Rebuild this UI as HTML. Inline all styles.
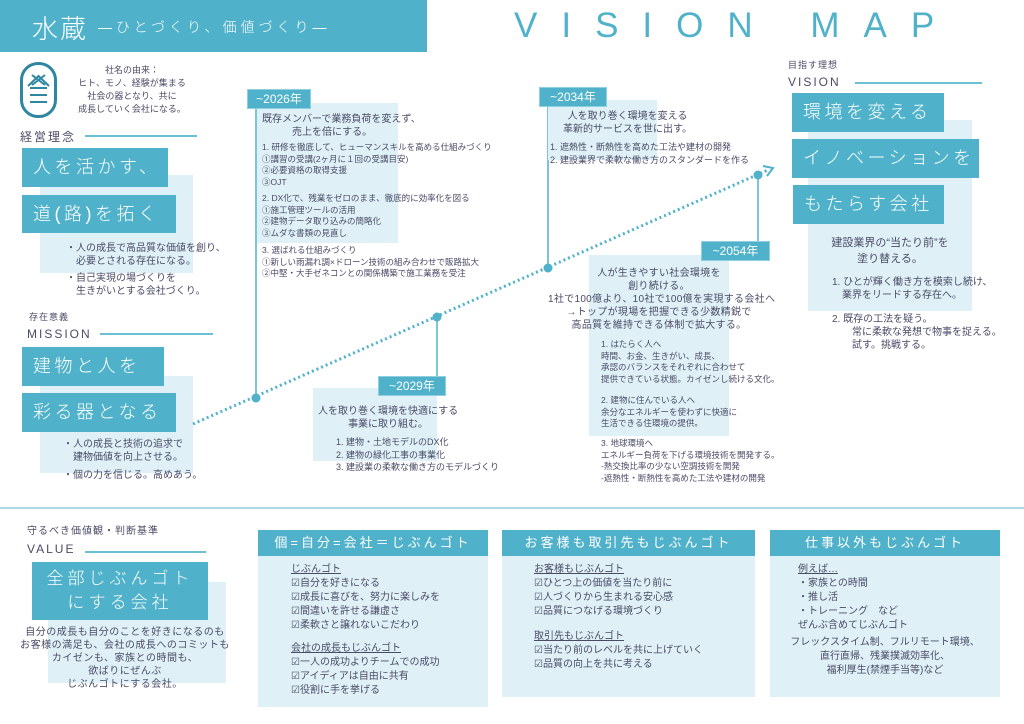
<!DOCTYPE html>
<html><head><meta charset="utf-8"><style>
*{margin:0;padding:0;box-sizing:border-box}
body{width:1024px;height:724px;background:#fff;position:relative;overflow:hidden;font-family:"Liberation Sans","Noto Sans CJK JP",sans-serif;color:#4a4b66}
div,span{position:absolute}
.t{background:#4fb2ca;color:#fff;letter-spacing:4px;font-weight:300;white-space:nowrap}
.l{background:#dff1f7}
.s{font-size:9px;line-height:12.5px;white-space:nowrap}
.m{font-size:10px;line-height:13px;white-space:nowrap}
.big{font-size:18px;padding-left:11px;line-height:38px;letter-spacing:3.5px}
.lab{background:#4fb2ca;color:#fff;font-size:12px;text-align:center;line-height:18px;border:1px solid #8fd0e0}
.hd{font-size:12px;letter-spacing:2px;white-space:nowrap}
.ln{height:1.5px;background:#6cc0d6}
.card{background:#dff1f7}
.card .h{left:0;right:0;top:0;height:26px;background:#4fb2ca;color:#fff;font-size:13px;letter-spacing:3px;text-align:center;line-height:26px;white-space:nowrap}
.u{text-decoration:underline}
</style></head><body>
<div class="t" style="left:0;top:0;width:427px;height:52px;letter-spacing:2px"><span style="left:32px;top:9px;font-size:26px">水蔵</span><span style="left:98px;top:17px;font-size:14px;letter-spacing:4px">―ひとづくり、価値づくり―</span></div>
<div style="left:514px;top:6px;font-size:35px;color:#4fb2ca;letter-spacing:24px;white-space:nowrap">VISION MAP</div>

<div style="left:20px;top:62px;width:37px;height:56px;border:3px solid #2e86a0;border-radius:18px"></div>
<svg style="position:absolute;left:20px;top:62px" width="37" height="56"><path d="M8 24 L18.5 14 L29 24 M12 13 L25 23 M25 13 L12 23" stroke="#2e86a0" stroke-width="2" fill="none"/></svg>
<div style="left:30px;top:87px;width:17px;height:2px;background:#2e86a0"></div>
<div style="left:30px;top:94px;width:17px;height:2px;background:#2e86a0"></div>
<div style="left:30px;top:101px;width:17px;height:2px;background:#2e86a0"></div>
<div class="s" style="left:72px;top:64px;width:120px;text-align:center;line-height:13px">社名の由来：<br>ヒト、モノ、経験が集まる<br>社会の器となり、共に<br>成長していく会社になる。</div>

<div class="hd" style="left:20px;top:128px">経営理念</div><div class="ln" style="left:85px;top:135px;width:112px"></div>
<div class="l" style="left:40px;top:175px;width:153px;height:98px"></div>
<div class="t big" style="left:22px;top:148px;width:146px;height:39px">人を活かす、</div>
<div class="t big" style="left:22px;top:195px;width:154px;height:38px">道(路)を拓く</div>
<div class="m" style="left:66px;top:242px">・人の成長で高品質な価値を創り、<br>　必要とされる存在になる。</div>
<div class="m" style="left:66px;top:272px">・自己実現の場づくりを<br>　生きがいとする会社づくり。</div>

<div class="s" style="left:29px;top:311px;letter-spacing:1px">存在意義</div>
<div class="hd" style="left:27px;top:327px">MISSION</div><div class="ln" style="left:100px;top:333px;width:113px"></div>
<div class="l" style="left:40px;top:376px;width:153px;height:97px"></div>
<div class="t big" style="left:22px;top:347px;width:142px;height:39px">建物と人を</div>
<div class="t big" style="left:22px;top:393px;width:154px;height:39px">彩る器となる</div>
<div class="m" style="left:63px;top:438px">・人の成長と技術の追求で<br>　建物価値を向上させる。</div>
<div class="m" style="left:63px;top:469px">・個の力を信じる。高めあう。</div>

<svg style="position:absolute;left:0;top:0" width="1024" height="724">
<line x1="193" y1="424" x2="768" y2="170" stroke="#4fb2ca" stroke-width="3" stroke-dasharray="2 3"/>
<path d="M763 166 L773 168 L767 176" fill="none" stroke="#4fb2ca" stroke-width="2"/>
<g stroke="#4fb2ca" stroke-width="1.5"><line x1="256" y1="107" x2="256" y2="398"/><line x1="437" y1="317" x2="437" y2="378"/><line x1="548" y1="105" x2="548" y2="268"/><line x1="758" y1="175" x2="758" y2="242"/></g>
<g fill="#4fb2ca"><circle cx="256" cy="398" r="4.5"/><circle cx="437" cy="317" r="4.5"/><circle cx="548" cy="268" r="4.5"/><circle cx="758" cy="175" r="4.5"/></g>
<line x1="0" y1="508" x2="1024" y2="508" stroke="#4fb2ca" stroke-width="1"/>
</svg>

<div class="l" style="left:257px;top:103px;width:141px;height:140px"></div>
<div class="lab" style="left:247px;top:89px;width:64px">~2026年</div>
<div class="m" style="left:262px;top:113px">既存メンバーで業務負荷を変えず、<br>　　　売上を倍にする。</div>
<div class="s" style="left:262px;top:142px;line-height:11.5px;font-size:8.5px">1. 研修を徹底して、ヒューマンスキルを高める仕組みづくり<br>①講習の受講(2ヶ月に１回の受講目安)<br>②必要資格の取得支援<br>③OJT</div>
<div class="s" style="left:262px;top:193px;line-height:11.5px;font-size:8.5px">2. DX化で、残業をゼロのまま、徹底的に効率化を図る<br>①施工管理ツールの活用<br>②建物データ取り込みの簡略化<br>③ムダな書類の見直し</div>
<div class="s" style="left:262px;top:245px;line-height:11.5px;font-size:8.5px">3. 選ばれる仕組みづくり<br>①新しい雨漏れ調×ドローン技術の組み合わせで販路拡大<br>②中堅・大手ゼネコンとの関係構築で施工業務を受注</div>

<div class="l" style="left:313px;top:388px;width:124px;height:73px"></div>
<div class="lab" style="left:378px;top:376px;width:68px">~2029年</div>
<div class="m" style="left:318px;top:405px">人を取り巻く環境を快適にする<br>　　　事業に取り組む。</div>
<div class="s" style="left:336px;top:436px">1. 建物・土地モデルのDX化<br>2. 建物の緑化工事の事業化<br>3. 建設業の柔軟な働き方のモデルづくり</div>

<div class="l" style="left:548px;top:100px;width:109px;height:60px"></div>
<div class="lab" style="left:539px;top:87px;width:68px">~2034年</div>
<div class="m" style="left:563px;top:110px;text-align:center">人を取り巻く環境を変える<br>革新的サービスを世に出す。</div>
<div class="s" style="left:550px;top:141px">1. 遮熱性・断熱性を高めた工法や建材の開発<br>2. 建設業界で柔軟な働き方のスタンダードを作る</div>

<div class="l" style="left:589px;top:255px;width:140px;height:181px"></div>
<div class="lab" style="left:701px;top:241px;width:69px">~2054年</div>
<div class="m" style="left:548px;top:267px;width:222px;text-align:center;letter-spacing:.3px">人が生きやすい社会環境を<br>創り続ける。<br>1社で100億より、10社で100億を実現する会社へ<br>→トップが現場を把握できる少数精鋭で<br>高品質を維持できる体制で拡大する。</div>
<div class="s" style="left:601px;top:339px;line-height:11.5px;font-size:8.5px">1. はたらく人へ<br>時間、お金、生きがい、成長、<br>承認のバランスをそれぞれに合わせて<br>提供できている状態。カイゼンし続ける文化。</div>
<div class="s" style="left:601px;top:395px;line-height:11.5px;font-size:8.5px">2. 建物に住んでいる人へ<br>余分なエネルギーを使わずに快適に<br>生活できる住環境の提供。</div>
<div class="s" style="left:601px;top:438px;line-height:11.5px;font-size:8.5px">3. 地球環境へ<br>エネルギー負荷を下げる環境技術を開発する。<br>-熱交換比率の少ない空調技術を開発<br>-遮熱性・断熱性を高めた工法や建材の開発</div>

<div class="s" style="left:788px;top:59px;letter-spacing:1px">目指す理想</div>
<div class="hd" style="left:788px;top:75px">VISION</div><div class="ln" style="left:855px;top:82px;width:127px"></div>
<div class="l" style="left:808px;top:120px;width:164px;height:191px"></div>
<div class="t big" style="left:792px;top:93px;width:152px;height:39px">環境を変える</div>
<div class="t big" style="left:792px;top:139px;width:187px;height:39px">イノベーションを</div>
<div class="t big" style="left:793px;top:185px;width:151px;height:39px">もたらす会社</div>
<div class="m" style="left:808px;top:235px;width:164px;text-align:center;font-size:11px;line-height:16px">建設業界の“当たり前”を<br>塗り替える。</div>
<div class="m" style="left:832px;top:276px">1. ひとが輝く働き方を模索し続け、<br>　業界をリードする存在へ。</div>
<div class="m" style="left:832px;top:313px">2. 既存の工法を疑う。<br>　　常に柔軟な発想で物事を捉える。<br>　　試す。挑戦する。</div>

<div class="s" style="left:27px;top:526px;font-size:10px;letter-spacing:1px">守るべき価値観・判断基準</div>
<div class="hd" style="left:27px;top:542px">VALUE</div><div class="ln" style="left:85px;top:551px;width:121px"></div>
<div class="l" style="left:48px;top:582px;width:178px;height:101px"></div>
<div class="t" style="left:32px;top:562px;width:176px;height:58px;font-size:17px;line-height:24px;text-align:center;padding-top:5px">全部じぶんゴト<br>にする会社</div>
<div class="m" style="left:10px;top:626px;width:230px;text-align:center;letter-spacing:.5px">自分の成長も自分のことを好きになるのも<br>お客様の満足も、会社の成長へのコミットも<br>カイゼンも、家族との時間も、<br>欲ばりにぜんぶ<br>じぶんゴトにする会社。</div>

<div class="card" style="left:258px;top:530px;width:230px;height:177px"><div class="h">個=自分=会社＝じぶんゴト</div>
<div class="m" style="left:33px;top:33px;line-height:14px"><span class="u" style="position:static">じぶんゴト</span><br>☑自分を好きになる<br>☑成長に喜びを、努力に楽しみを<br>☑間違いを許せる謙虚さ<br>☑柔軟さと譲れないこだわり</div>
<div class="m" style="left:33px;top:112px;line-height:14px"><span class="u" style="position:static">会社の成長もじぶんゴト</span><br>☑一人の成功よりチームでの成功<br>☑アイディアは自由に共有<br>☑役割に手を挙げる</div></div>

<div class="card" style="left:502px;top:530px;width:253px;height:167px"><div class="h">お客様も取引先もじぶんゴト</div>
<div class="m" style="left:32px;top:33px;line-height:14px"><span class="u" style="position:static">お客様もじぶんゴト</span><br>☑ひとつ上の価値を当たり前に<br>☑人づくりから生まれる安心感<br>☑品質につなげる環境づくり</div>
<div class="m" style="left:32px;top:100px;line-height:14px"><span class="u" style="position:static">取引先もじぶんゴト</span><br>☑当たり前のレベルを共に上げていく<br>☑品質の向上を共に考える</div></div>

<div class="card" style="left:770px;top:530px;width:230px;height:167px"><div class="h">仕事以外もじぶんゴト</div>
<div class="m" style="left:28px;top:33px;line-height:14px"><span class="u" style="position:static">例えば…</span><br>・家族との時間<br>・推し活<br>・トレーニング　など<br>ぜんぶ含めてじぶんゴト</div>
<div class="m" style="left:0;top:106px;width:230px;text-align:center;line-height:14px">フレックスタイム制、フルリモート環境、<br>直行直帰、残業撲滅効率化、<br>福利厚生(禁煙手当等)など</div></div>
</body></html>
